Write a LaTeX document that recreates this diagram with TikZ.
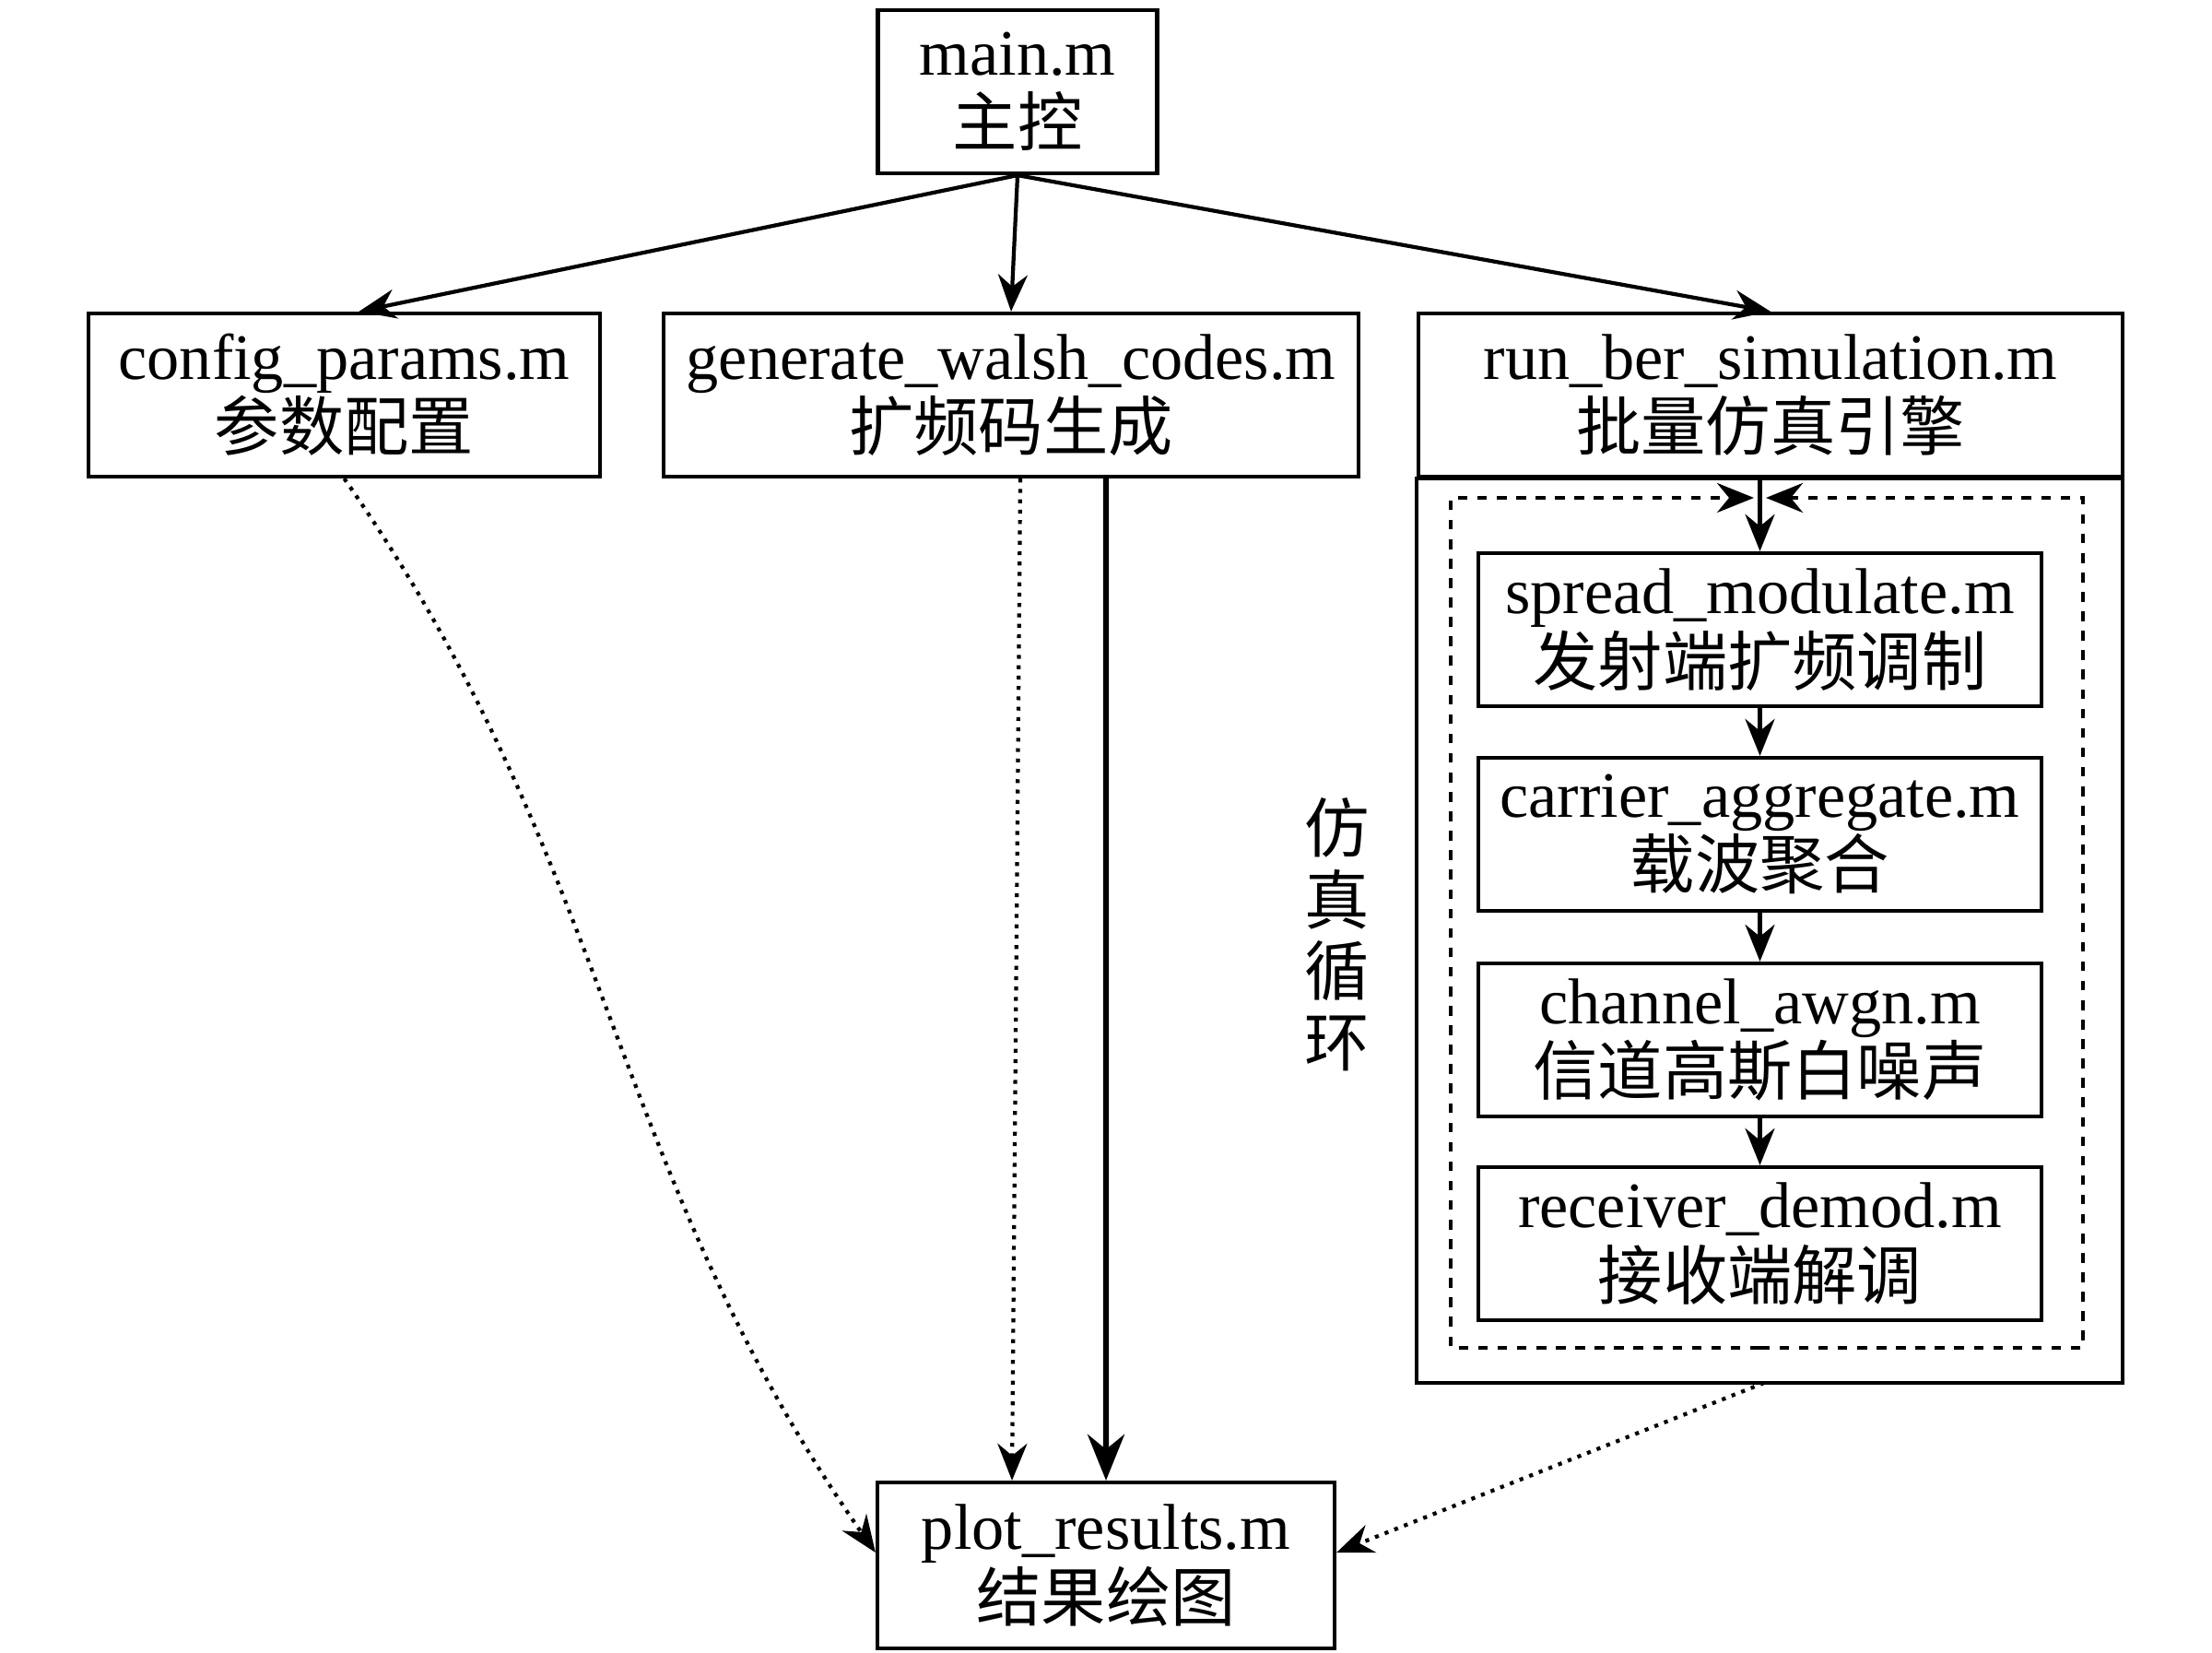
\documentclass[tikz,border=0pt]{standalone}
\usepackage{fontspec}
\setmainfont{Liberation Serif}
\newfontfamily\cjk{Noto Sans CJK SC}
\usetikzlibrary{arrows.meta}
\begin{document}
\begin{tikzpicture}
    [line width=1.2pt,>={Stealth[length=4mm,width=3.2mm]},
     every node/.style={font=\fontsize{20}{22}\selectfont,align=center,inner sep=0pt},
     box/.style={draw,minimum height=1.77cm},
     stage/.style={draw,minimum width=6.11cm,minimum height=1.66cm}]
    \useasboundingbox (0,0) rectangle (24,17.92);
    \node[box,minimum width=3.03cm] (main) at (11.04,16.925) {main.m\\{\cjk 主控}};
    \node[box,minimum width=5.55cm] (config) at (3.735,13.635) {config\_params.m\\{\cjk 参数配置}};
    \node[box,minimum width=7.54cm] (walsh) at (10.97,13.635) {generate\_walsh\_codes.m\\{\cjk 扩频码生成}};
    \node[box,minimum width=7.64cm] (sim) at (19.21,13.635) {run\_ber\_simulation.m\\{\cjk 批量仿真引擎}};
    \draw (sim.south west) rectangle (23.03,2.92);
    \coordinate (simbot) at (19.14,2.92);
    \coordinate (loop) at (19.095,12.75);
    \node[stage] (spread) at (19.095,11.09) {spread\_modulate.m\\{\cjk 发射端扩频调制}};
    \node[stage] (carrier) at (19.095,8.87) {carrier\_aggregate.m\\{\cjk 载波聚合}};
    \node[stage] (channel) at (19.095,6.64) {channel\_awgn.m\\{\cjk 信道高斯白噪声}};
    \node[stage] (receiver) at (19.095,4.43) {receiver\_demod.m\\{\cjk 接收端解调}};
    \node[box,minimum width=4.96cm,minimum height=1.8cm] (plot) at (12.0,0.94) {plot\_results.m\\{\cjk 结果绘图}};
    \node (looplabel) at (14.51,7.78) {\cjk 仿\\\cjk 真\\\cjk 循\\\cjk 环};
    % main calls
    \draw[->] (main.south) -- ([xshift=1.6mm]config.north);
    \draw[->] (main.south) -- (walsh.north);
    \draw[->] (main.south) -- (sim.north);
    % simulation loop
    \draw[->] (sim.south -| loop) -- (spread.north);
    \draw[dashed,->] (19.095,3.30) -| (15.74,12.52) -- (19.03,12.52);
    \draw[dashed,->] (19.095,3.30) -| (22.60,12.52) -- (19.16,12.52);
    \draw[->] (spread) -- (carrier);
    \draw[->] (carrier) -- (channel);
    \draw[->] (channel) -- (receiver);
    % results
    \draw[dotted,->] (config.south) to[out=-55,in=125] ([yshift=1.4mm]plot.west);
    \draw[dotted,->] ([xshift=1mm]walsh.south) -- ([xshift=-10.2mm]plot.north);
    \draw[line width=1.8pt,->,>={Stealth[length=5mm,width=4mm]}] ([xshift=10.3mm]walsh.south) -- (plot.north);
    \draw[dotted,->] (simbot) -- ([yshift=1.4mm]plot.east);
  \end{tikzpicture}
\end{document}
